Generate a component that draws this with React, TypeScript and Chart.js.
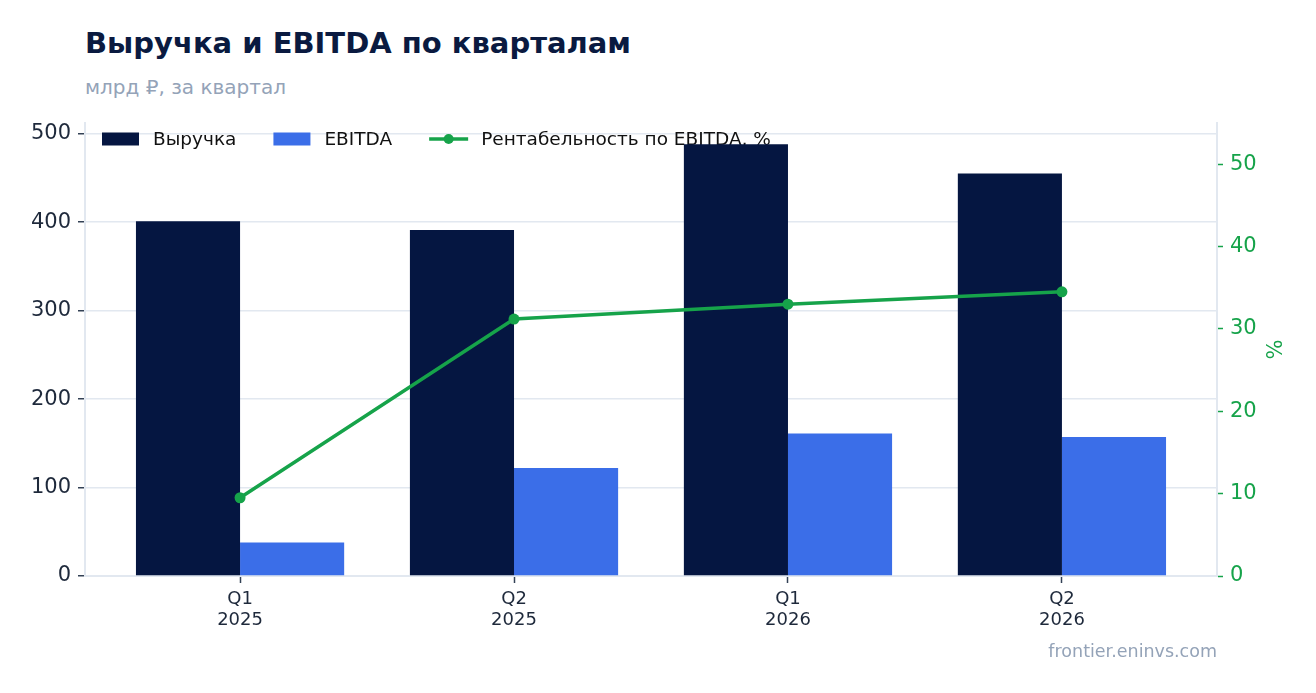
import React, { useEffect, useRef } from "react";
import { Chart, registerables } from "chart.js";

Chart.register(...registerables);

const categories: string[][] = [
  ["Q1", "2025"],
  ["Q2", "2025"],
  ["Q1", "2026"],
  ["Q2", "2026"],
];
const revenue = [401, 391, 488, 455];
const ebitda = [38, 122, 161, 157];
const margin = [9.5, 31.2, 33.0, 34.5];
const leftTickStep = 100;
const rightTickStep = 10;

const FONT = '"DejaVu Sans", "Noto Sans", sans-serif';
const NAVY = "#051641";
const BLUE = "#3b6ee8";
const GREEN = "#16a34a";
const GRID = "#e2e8f0";
const TICK_DARK = "#1e293b";

const legendPlugin = {
  id: "customLegend",
  beforeDatasetsDraw(chart: any) {
    const ctx = chart.ctx as CanvasRenderingContext2D;
    ctx.save();
    ctx.font = `18.5px ${FONT}`;
    ctx.textBaseline = "middle";
    ctx.textAlign = "left";
    let x = 102;
    const y = 139;
    const ds = [...chart.data.datasets].sort((a: any, b: any) => (a.legendIndex ?? 0) - (b.legendIndex ?? 0));
    ds.forEach((d: any) => {
      if (d.type === "line") {
        ctx.strokeStyle = d.borderColor;
        ctx.lineWidth = 3.5;
        ctx.beginPath();
        ctx.moveTo(x, y);
        ctx.lineTo(x + 39, y);
        ctx.stroke();
        ctx.fillStyle = d.borderColor;
        ctx.beginPath();
        ctx.arc(x + 19.5, y, 5, 0, Math.PI * 2);
        ctx.fill();
        x += 39 + 13;
      } else {
        ctx.fillStyle = d.backgroundColor;
        ctx.fillRect(x, y - 6.5, 37, 13);
        x += 37 + 14;
      }
      ctx.fillStyle = "#111111";
      ctx.fillText(d.label, x, y + 1);
      x += ctx.measureText(d.label).width + 37;
    });
    ctx.restore();
  },
};

export default function App() {
  const canvasRef = useRef<HTMLCanvasElement | null>(null);

  useEffect(() => {
    if (!canvasRef.current) return;
    Chart.defaults.font.family = FONT;
    const chart = new Chart(canvasRef.current, {
      type: "bar",
      data: {
        datasets: [
          {
            type: "line",
            label: "Рентабельность по EBITDA, %",
            data: margin.map((v, i) => ({ x: i, y: v })),
            borderColor: GREEN,
            backgroundColor: GREEN,
            borderWidth: 3.5,
            pointRadius: 5.5,
            pointHoverRadius: 5.5,
            pointBackgroundColor: GREEN,
            pointBorderWidth: 0,
            yAxisID: "y1",
            order: 0,
            legendIndex: 2,
          } as any,
          {
            type: "bar",
            label: "Выручка",
            data: revenue.map((v, i) => ({ x: i, y: v })),
            backgroundColor: NAVY,
            yAxisID: "y",
            order: 1,
            legendIndex: 0,
            categoryPercentage: 0.76,
            barPercentage: 1,
          } as any,
          {
            type: "bar",
            label: "EBITDA",
            data: ebitda.map((v, i) => ({ x: i, y: v })),
            backgroundColor: BLUE,
            yAxisID: "y",
            order: 1,
            legendIndex: 1,
            categoryPercentage: 0.76,
            barPercentage: 1,
          } as any,
        ],
      },
      options: {
        animation: false,
        responsive: true,
        maintainAspectRatio: false,
        layout: { padding: { top: 123, left: 0, right: 28, bottom: 57 } },
        plugins: {
          legend: { display: false },
          tooltip: { enabled: false },
          title: { display: false },
        },
        scales: {
          x: {
            type: "linear",
            offset: false,
            min: -0.566,
            max: 3.566,
            afterBuildTicks: (axis: any) => {
              axis.ticks = categories.map((_, i) => ({ value: i }));
            },
            afterFit: (s: any) => {
              s.height = 60;
            },
            ticks: {
              autoSkip: false,
              maxRotation: 0,
              padding: 6,
              color: TICK_DARK,
              font: { size: 18, family: FONT, lineHeight: 1.16 },
              callback: (v: any) => categories[Math.round(Number(v))] ?? "",
            },
            grid: {
              offset: false,
              drawOnChartArea: false,
              drawTicks: true,
              tickLength: 7,
              tickColor: "#334155",
              tickWidth: 1.5,
            },
            border: { display: true, color: GRID, width: 2 },
          },
          y: {
            type: "linear",
            position: "left",
            min: 0,
            max: 512,
            afterFit: (s: any) => {
              s.width = 85;
            },
            ticks: {
              stepSize: leftTickStep,
              includeBounds: false,
              padding: 7,
              color: TICK_DARK,
              font: { size: 21, family: FONT },
            },
            grid: {
              color: GRID,
              lineWidth: 1.5,
              drawTicks: true,
              tickLength: 7,
              tickColor: "#334155",
              tickWidth: 1.5,
            },
            border: { display: true, color: GRID, width: 2 },
          },
          y1: {
            type: "linear",
            position: "right",
            min: 0,
            max: 55,
            afterFit: (s: any) => {
              s.width = 71;
            },
            ticks: {
              stepSize: rightTickStep,
              includeBounds: false,
              padding: 7,
              color: GREEN,
              font: { size: 21, family: FONT },
            },
            grid: {
              drawOnChartArea: false,
              drawTicks: true,
              tickLength: 6,
              tickColor: GREEN,
              tickWidth: 1.5,
            },
            border: { display: true, color: GRID, width: 2 },
            title: {
              display: true,
              text: "%",
              color: GREEN,
              font: { size: 21, family: FONT },
              padding: { top: 4, bottom: 4 },
            },
          },
        },
      } as any,
      plugins: [legendPlugin],
    });
    return () => chart.destroy();
  }, []);

  return (
    <div style={{ position: "absolute", left: 0, top: 0, width: 1316, height: 693, background: "#ffffff", fontFamily: FONT }}>
      <div
        style={{
          position: "absolute",
          left: 85,
          top: 29,
          fontSize: 29,
          lineHeight: "29px",
          fontWeight: "bold",
          color: "#0a1a40",
          whiteSpace: "nowrap",
        }}
      >
        Выручка и EBITDA по кварталам
      </div>
      <div
        style={{
          position: "absolute",
          left: 85,
          top: 77,
          fontSize: 20,
          lineHeight: "20px",
          color: "#94a3b8",
          whiteSpace: "nowrap",
        }}
      >
        млрд ₽, за квартал
      </div>
      <div style={{ position: "absolute", left: 0, top: 0, width: 1316, height: 693 }}>
        <canvas ref={canvasRef} />
      </div>
      <div
        style={{
          position: "absolute",
          right: 1316 - 1217,
          top: 643,
          fontSize: 17.5,
          lineHeight: "17.5px",
          color: "#94a3b8",
          whiteSpace: "nowrap",
        }}
      >
        frontier.eninvs.com
      </div>
    </div>
  );
}
